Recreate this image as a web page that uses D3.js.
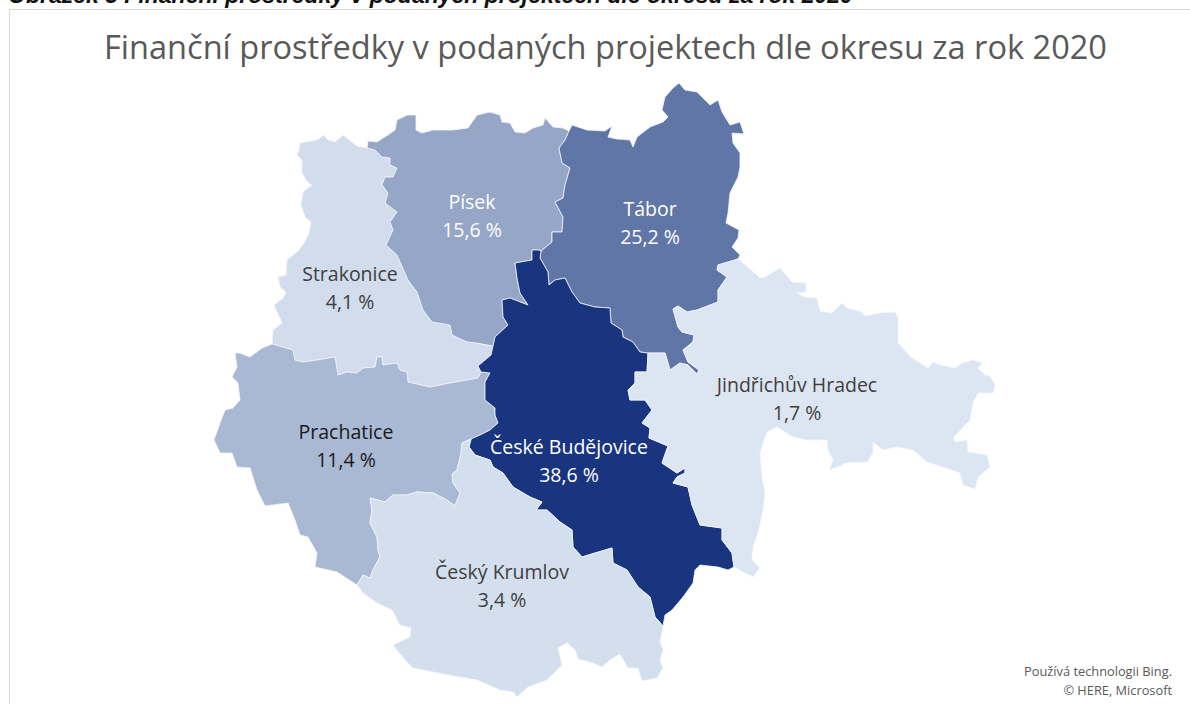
<!DOCTYPE html>
<html lang="cs">
<head>
<meta charset="utf-8">
<title>Finanční prostředky</title>
<script src="https://d3js.org/d3.v7.min.js"></script>
<style>
  html, body { margin: 0; background: #fff; overflow: hidden; }
  svg { display: block; font-family: "Open Sans", sans-serif; }
</style>
</head>
<body>
<svg id="chart" width="1190" height="704"></svg>
<script>
// okresy and their share of the money
const districts = ["Strakonice", "Písek", "Tábor", "Prachatice", "České Budějovice", "Český Krumlov", "Jindřichův Hradec"];
const shares = [4.1, 15.6, 25.2, 11.4, 38.6, 3.4, 1.7];
// label anchor in map units, one per district
const labelAnchors = [[350, 280.5], [472, 208.5], [650, 215.5], [346, 438.5], [569, 453.5], [502, 578.5], [797, 391.5]];

const figureCaption = "Obrázek 3 Finanční prostředky v podaných projektech dle okresu za rok 2020";
const chartTitle = "Finanční prostředky v podaných projektech dle okresu za rok 2020";
const attribution = ["Používá technologii Bing.", "© HERE, Microsoft"];

// district borders, in map units. shared borders are kept once
const strakoniceWest = [[367,148],[357,146],[343,135],[335,142],[328,140],[324,135],[317,140],[300,143],[299,150],[297,155],[302,160],[302,173],[307,182],[312,185],[303,192],[301,205],[305,217],[311,222],[309,233],[304,243],[297,252],[287,260],[286,275],[278,277],[280,287],[286,292],[283,298],[274,305],[282,323],[273,330],[272,344]];
const strakonicePrachatice = [[272,344],[283,347],[293,350],[295,360],[303,362],[317,360],[335,357],[338,375],[347,372],[357,373],[363,368],[375,367],[377,357],[382,357],[383,365],[397,363],[400,370],[407,372],[408,382],[430,387],[450,383],[478,378],[481,372]];
const strakonicePisek = [[367,148],[375,150],[382,157],[390,158],[390,165],[397,168],[393,177],[385,177],[382,185],[388,193],[385,203],[397,212],[390,222],[393,230],[386,245],[397,255],[408,280],[417,292],[423,310],[432,322],[450,325],[452,335],[467,342],[477,343],[493,346]];
const strakoniceBudejovice = [[493,346],[491,355],[478,366],[481,372]];
const pisekNorth = [[367,148],[368,141],[377,142],[383,138],[388,135],[395,130],[397,120],[407,115],[416,115],[416,130],[422,133],[433,130],[453,130],[468,128],[477,115],[490,112],[500,115],[502,122],[510,123],[515,132],[525,133],[533,128],[543,125],[545,118],[553,127],[563,128],[569,131]];
const pisekTabor = [[569,131],[565,140],[559,148],[562,163],[570,168],[565,185],[563,198],[555,202],[563,217],[562,232],[552,232],[552,242],[541,251]];
const pisekBudejovice = [[493,346],[495,337],[508,325],[503,317],[502,300],[510,298],[528,305],[520,293],[517,278],[515,263],[532,260],[532,250],[539,250],[541,251]];
const taborBudejovice = [[541,251],[540,258],[548,272],[549,285],[555,280],[565,278],[572,292],[580,303],[595,307],[610,308],[611,323],[622,330],[623,337],[633,342],[640,352],[648,353]];
const taborNorthEast = [[569,131],[572,125],[587,130],[605,131],[612,126],[608,137],[617,139],[630,140],[633,147],[637,137],[650,127],[663,122],[668,117],[662,110],[665,97],[673,88],[679,83],[685,90],[697,92],[710,105],[718,100],[722,112],[730,125],[740,122],[744,134],[732,133],[733,143],[740,153],[740,167],[738,177],[730,193],[728,213],[726,223],[739,230],[738,238],[732,247],[740,255],[738,259]];
const taborHradec = [[738,259],[718,265],[717,270],[727,277],[718,290],[718,302],[697,310],[687,312],[678,306],[673,309],[678,327],[682,332],[694,335],[693,342],[683,350],[688,362],[699,370],[697,374],[688,365],[680,363],[670,370],[665,353],[660,353],[648,353]];
const hradecBudejovice = [[648,353],[647,372],[635,372],[635,383],[628,390],[630,400],[645,400],[652,410],[642,423],[650,428],[649,438],[668,446],[662,463],[677,473],[685,468],[685,473],[677,477],[673,483],[688,487],[692,505],[700,525],[722,528],[722,540],[732,553],[734,567]];
const hradecOuter = [[734,567],[753,577],[760,568],[752,560],[753,547],[758,533],[763,510],[765,493],[762,477],[760,453],[767,432],[777,427],[793,437],[807,440],[827,440],[828,450],[833,460],[829,470],[847,463],[867,462],[873,453],[873,442],[883,450],[897,447],[913,450],[927,462],[943,467],[960,473],[963,485],[975,489],[978,477],[990,467],[987,455],[968,452],[967,440],[955,442],[953,438],[970,420],[973,403],[978,393],[993,393],[995,385],[990,376],[985,375],[978,368],[982,363],[973,360],[962,363],[955,368],[940,365],[933,362],[928,368],[912,358],[898,343],[898,317],[895,312],[880,313],[865,316],[862,312],[847,308],[842,303],[832,313],[820,311],[817,298],[805,297],[797,293],[806,292],[806,283],[792,282],[780,268],[765,277],[760,278],[748,267],[738,259]];
const budejovicePrachatice = [[481,372],[490,373],[485,382],[485,400],[495,408],[495,415],[498,423],[490,430],[480,435],[471,439]];
const budejoviceKrumlov = [[471,439],[469,447],[475,455],[490,460],[493,467],[503,473],[513,487],[530,497],[542,502],[536,510],[547,510],[560,522],[572,530],[573,547],[582,557],[595,553],[612,548],[613,563],[627,570],[638,587],[650,597],[655,617],[663,626]];
const budejoviceSouth = [[734,567],[728,570],[718,567],[700,565],[695,570],[693,583],[683,597],[672,610],[665,615],[663,626]];
const prachaticeKrumlov = [[471,439],[462,443],[461,453],[457,470],[452,474],[453,483],[460,493],[455,506],[447,500],[433,493],[417,492],[407,495],[393,495],[385,502],[370,498],[372,510],[370,523],[377,537],[378,550],[380,557],[373,570],[370,578],[363,575],[357,585]];
const prachaticeOuter = [[272,344],[262,348],[250,357],[240,353],[235,353],[237,367],[232,377],[238,383],[240,400],[233,408],[225,410],[220,423],[214,440],[220,453],[232,453],[237,467],[250,468],[257,490],[265,506],[288,503],[295,520],[300,535],[308,537],[317,553],[315,567],[337,572],[357,585]];
const krumlovOuter = [[357,585],[363,593],[377,603],[392,610],[400,625],[411,628],[410,637],[393,645],[405,660],[413,668],[433,672],[460,677],[477,680],[500,690],[513,692],[517,697],[528,687],[547,680],[562,665],[558,648],[567,643],[575,650],[578,659],[590,662],[602,667],[610,660],[620,654],[628,668],[638,668],[642,681],[657,678],[663,668],[660,660],[663,650],[660,642],[663,626]];

const rev = a => a.slice().reverse();
// glue the chains into closed rings
const ring = (...chains) => {
  const pts = [];
  chains.forEach(c => pts.push(...(pts.length ? c.slice(1) : c)));
  return pts;
};
const rings = [
  ring(strakoniceWest, strakonicePrachatice, rev(strakoniceBudejovice), rev(strakonicePisek)),
  ring(pisekNorth, pisekTabor, rev(pisekBudejovice), rev(strakonicePisek)),
  ring(taborNorthEast, taborHradec, rev(taborBudejovice), rev(pisekTabor)),
  ring(prachaticeOuter, rev(prachaticeKrumlov), rev(budejovicePrachatice), rev(strakonicePrachatice)),
  ring(taborBudejovice, hradecBudejovice, budejoviceSouth, rev(budejoviceKrumlov), rev(budejovicePrachatice), rev(strakoniceBudejovice), pisekBudejovice),
  ring(krumlovOuter, rev(budejoviceKrumlov), prachaticeKrumlov),
  ring(hradecOuter, taborHradec, hradecBudejovice)
];

const features = districts.map((name, i) => ({
  type: "Feature",
  properties: { name, share: shares[i], anchor: labelAnchors[i] },
  geometry: { type: "Polygon", coordinates: [rings[i].concat([rings[i][0]])] }
}));

const svg = d3.select("#chart");
const projection = d3.geoIdentity();
const path = d3.geoPath(projection);

// sequential blue, by share
const color = d3.scaleLinear()
  .domain([1.7, 3.4, 4.1, 11.4, 15.6, 25.2, 38.6])
  .range(["#dce6f2", "#d3dfed", "#d1dcec", "#a9b8d3", "#95a6c7", "#5f76a6", "#19357f"]);

// caption above the frame, cut off by the page top
svg.append("text")
  .attr("x", 8).attr("y", 3)
  .attr("font-family", "Liberation Sans, sans-serif")
  .attr("font-size", 23).attr("font-weight", 700).attr("font-style", "italic")
  .attr("fill", "#111")
  .text(figureCaption);

// chart frame
svg.append("path")
  .attr("d", "M9.5,704V9.5H1190")
  .attr("fill", "none").attr("stroke", "#d9d9d9");

svg.append("text")
  .attr("x", 605.5).attr("y", 59)
  .attr("text-anchor", "middle")
  .attr("font-size", 32.55).attr("fill", "#595959")
  .text(chartTitle);

svg.append("g").selectAll("path")
  .data(features)
  .join("path")
  .attr("d", path)
  .attr("fill", d => color(d.properties.share))
  .attr("stroke", "#f2f5fa").attr("stroke-width", 0.8).attr("stroke-linejoin", "round");

const darkShare = 11.4;
const labels = svg.append("g").selectAll("text")
  .data(features)
  .join("text")
  .attr("text-anchor", "middle")
  .attr("font-size", 19.5)
  .attr("fill", d => d.properties.share > darkShare ? "#fff" : d.properties.share === darkShare ? "#1a1a1a" : "#404040");
labels.append("tspan")
  .attr("x", d => projection(d.properties.anchor)[0])
  .attr("y", d => projection(d.properties.anchor)[1])
  .text(d => d.properties.name);
labels.append("tspan")
  .attr("x", d => projection(d.properties.anchor)[0])
  .attr("y", d => projection(d.properties.anchor)[1] + 28)
  .text(d => d3.format(".1f")(d.properties.share).replace(".", ",") + " %");

svg.append("g").selectAll("text")
  .data(attribution)
  .join("text")
  .attr("x", 1172).attr("y", (d, i) => 676 + i * 19)
  .attr("text-anchor", "end")
  .attr("font-size", 12.8).attr("fill", "#595959")
  .text(d => d);
</script>
</body>
</html>
